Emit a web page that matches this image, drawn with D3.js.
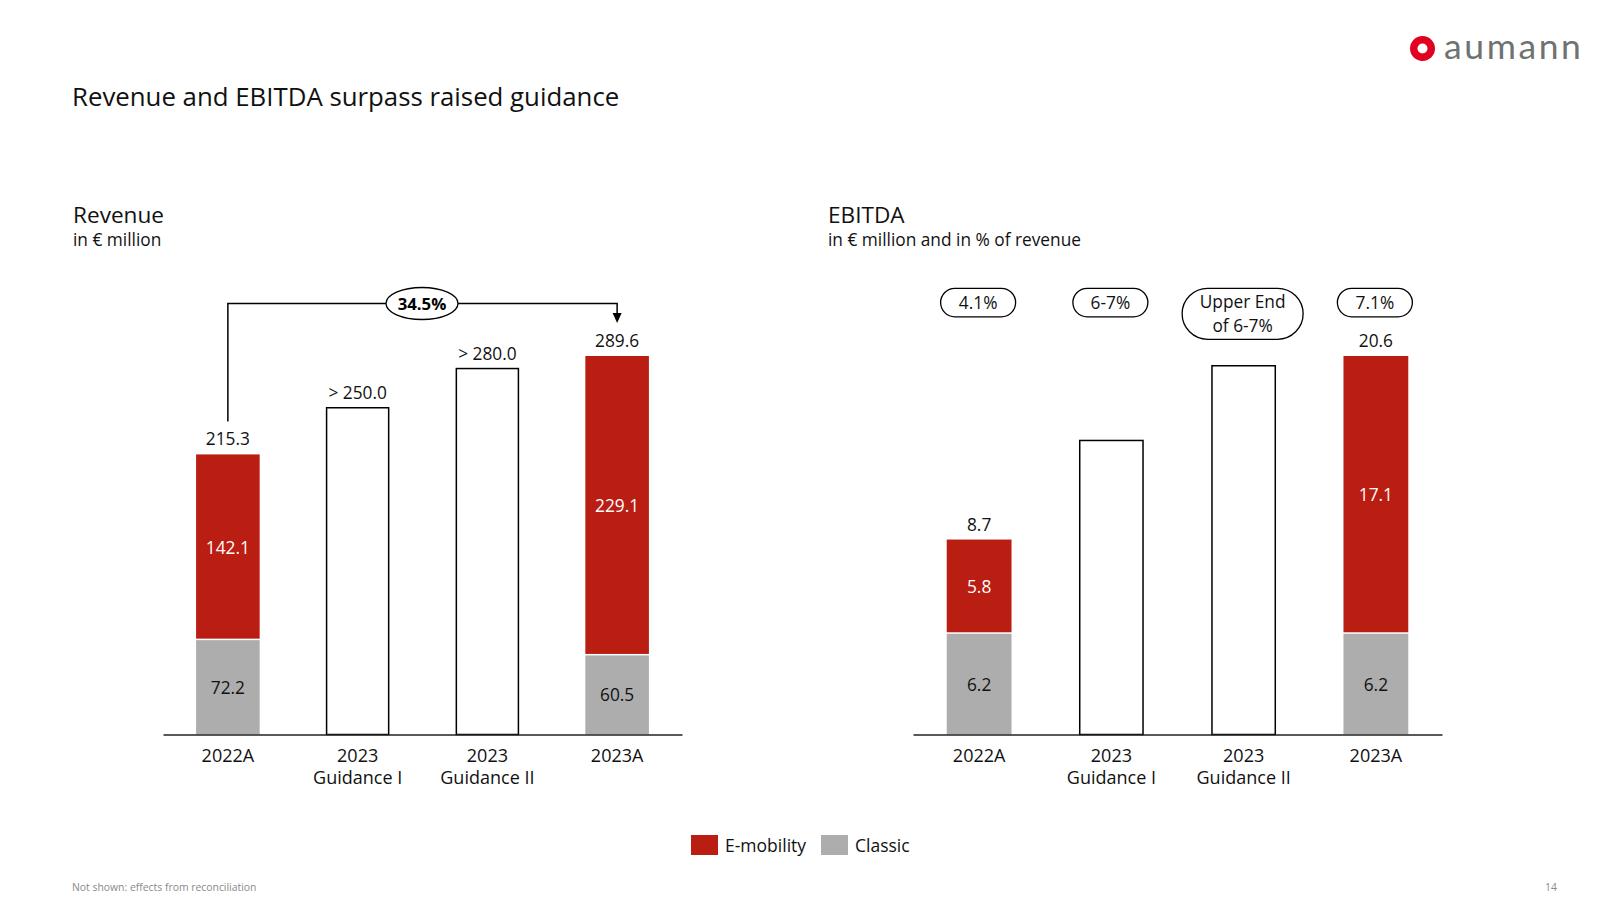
<!DOCTYPE html>
<html>
<head>
<meta charset="utf-8">
<script src="https://cdn.jsdelivr.net/npm/d3@7"></script>
<style>
  html, body { margin: 0; padding: 0; background: #fff; }
  svg { display: block; font-family: "Open Sans", "Noto Sans", sans-serif; }
</style>
</head>
<body>
<svg id="chart" width="1600" height="900"></svg>
<script>
// ---------- data ----------
const categories = ["2022A", "2023\nGuidance I", "2023\nGuidance II", "2023A"];
const seriesNames = ["E-mobility", "Classic"];

const revClassic   = [72.2, null, null, 60.5];
const revEmobility = [142.1, null, null, 229.1];
const revGuidance  = [null, 250.0, 280.0, null];
const revTotals    = ["215.3", "> 250.0", "> 280.0", "289.6"];
const revGrowth    = "34.5%";

const ebitdaClassic   = [6.2, null, null, 6.2];
const ebitdaEmobility = [5.8, null, null, 17.1];
const ebitdaGuidance  = [null, 18.1, 22.7, null];
const ebitdaTotals    = ["8.7", null, null, "20.6"];
const ebitdaMargins   = ["4.1%", "6-7%", "Upper End\nof 6-7%", "7.1%"];

// ---------- styles ----------
const RED = "#BA1D12", GREY = "#ADADAD", INK = "#111";
const svg = d3.select("#chart");

// header
svg.append("text").attr("x", 72).attr("y", 105.5).attr("font-size", 25.8).attr("fill", INK)
  .text("Revenue and EBITDA surpass raised guidance");

// logo
const logo = svg.append("g");
logo.append("circle").attr("cx", 1422.5).attr("cy", 48.5).attr("r", 12.5).attr("fill", "#E1001F");
logo.append("circle").attr("cx", 1422.5).attr("cy", 48.5).attr("r", 5).attr("fill", "#fff");
logo.append("text").attr("x", 1444).attr("y", 58.5).attr("font-size", 35.5).attr("letter-spacing", 2.6)
  .attr("fill", "#6E7271").attr("font-family", "Lato, 'Open Sans', sans-serif").text("aumann");

// footer
svg.append("text").attr("x", 72).attr("y", 891).attr("font-size", 10.4).attr("fill", "#8a8a8a")
  .text("Not shown: effects from reconciliation");
svg.append("text").attr("x", 1557).attr("y", 891).attr("font-size", 10.4).attr("fill", "#8a8a8a")
  .attr("text-anchor", "end").text("14");

// ---------- generic panel ----------
function panel(opt) {
  const g = svg.append("g");
  const x = d3.scaleBand().domain(categories).range(opt.xRange)
    .paddingInner(opt.pad).paddingOuter(opt.pad / 2);
  const y = d3.scaleLinear().domain([0, opt.yMax]).range([734.5, 356]);

  // titles
  g.append("text").attr("x", opt.titleX).attr("y", 222.5).attr("font-size", 22.6).attr("fill", INK).text(opt.title);
  g.append("text").attr("x", opt.titleX).attr("y", 245.5).attr("font-size", 17.3).attr("fill", INK).text(opt.subtitle);

  const bw = x.bandwidth();
  // classic
  g.selectAll(".classic").data(categories.filter((c, i) => opt.classic[i] != null)).join("rect")
    .attr("x", c => x(c)).attr("width", bw)
    .attr("y", c => y(opt.classic[categories.indexOf(c)]))
    .attr("height", c => y(0) - y(opt.classic[categories.indexOf(c)]))
    .attr("fill", GREY);
  // e-mobility (stacked)
  g.selectAll(".emob").data(categories.filter((c, i) => opt.emob[i] != null)).join("rect")
    .attr("x", c => x(c)).attr("width", bw)
    .attr("y", c => { const i = categories.indexOf(c); return y(opt.classic[i] + opt.emob[i]); })
    .attr("height", c => { const i = categories.indexOf(c); return y(opt.classic[i]) - y(opt.classic[i] + opt.emob[i]) - 1.5; })
    .attr("fill", RED);
  // guidance outlines
  g.selectAll(".guid").data(categories.filter((c, i) => opt.guid[i] != null)).join("rect")
    .attr("x", c => x(c) + 0.75).attr("width", bw - 1.5)
    .attr("y", c => y(opt.guid[categories.indexOf(c)]))
    .attr("height", c => y(0) - y(opt.guid[categories.indexOf(c)]))
    .attr("fill", "#fff").attr("stroke", "#000").attr("stroke-width", 1.5);

  // inner labels
  categories.forEach((c, i) => {
    const cx = x(c) + bw / 2;
    if (opt.classic[i] != null) {
      g.append("text").attr("x", cx).attr("y", (y(0) + y(opt.classic[i])) / 2)
        .attr("text-anchor", "middle").attr("dominant-baseline", "central")
        .attr("font-size", 17.3).attr("fill", INK).text(opt.classic[i].toFixed(1));
      g.append("text").attr("x", cx).attr("y", (y(opt.classic[i]) + y(opt.classic[i] + opt.emob[i])) / 2)
        .attr("text-anchor", "middle").attr("dominant-baseline", "central")
        .attr("font-size", 17.3).attr("fill", "#fff").text(opt.emob[i].toFixed(1));
    }
    const top = opt.guid[i] != null ? y(opt.guid[i]) : (opt.classic[i] != null ? y(opt.classic[i] + opt.emob[i]) : null);
    if (opt.totals[i]) {
      g.append("text").attr("x", cx).attr("y", top - 9)
        .attr("text-anchor", "middle").attr("font-size", 17.3).attr("fill", INK).text(opt.totals[i]);
    }
  });

  // axis
  const ax = g.append("g").attr("transform", `translate(0,${y(0)})`)
    .call(d3.axisBottom(x).tickSize(0).tickSizeOuter(0).tickFormat(""));
  ax.select(".domain").attr("stroke", "#222").attr("stroke-width", 1.5);
  ax.selectAll(".tick").each(function (c) {
    const t = d3.select(this).append("text").attr("text-anchor", "middle")
      .attr("font-size", 18).attr("fill", INK).attr("font-family", "'Open Sans', sans-serif");
    c.split("\n").forEach((line, k) => {
      t.append("tspan").attr("x", 0).attr("y", 27 + k * 22.5).text(line);
    });
  });
  return { g, x, y };
}

// ---------- revenue ----------
const rev = panel({
  xRange: [163, 682], pad: 0.51, yMax: revClassic[3] + revEmobility[3],
  title: "Revenue", subtitle: "in € million", titleX: 73,
  classic: revClassic, emob: revEmobility, guid: revGuidance, totals: revTotals
});
{
  const { g, x, y } = rev;
  const bw = x.bandwidth();
  const x0 = x(categories[0]) + bw / 2, x3 = x(categories[3]) + bw / 2;
  const top0 = y(revClassic[0] + revEmobility[0]);
  const top3 = y(revClassic[3] + revEmobility[3]);
  const yLine = top3 - 52.5;
  g.append("path")
    .attr("d", `M${x0},${top0 - 33}V${yLine}H${x3}V${top3 - 43}`)
    .attr("fill", "none").attr("stroke", "#000").attr("stroke-width", 1.5);
  g.append("path")
    .attr("d", `M${x3 - 4.5},${top3 - 43}L${x3 + 4.5},${top3 - 43}L${x3},${top3 - 33}Z`)
    .attr("fill", "#000");
  const ex = (x0 + x3) / 2 - 0.5;
  g.append("ellipse").attr("cx", ex).attr("cy", yLine).attr("rx", 36).attr("ry", 16)
    .attr("fill", "#fff").attr("stroke", "#000").attr("stroke-width", 1.3);
  g.append("text").attr("x", ex).attr("y", yLine).attr("text-anchor", "middle")
    .attr("dominant-baseline", "central").attr("font-size", 16.8).attr("font-weight", 700)
    .attr("fill", "#000").text(revGrowth);
}

// ---------- EBITDA ----------
const eb = panel({
  xRange: [913, 1442], pad: 0.51, yMax: ebitdaClassic[3] + ebitdaEmobility[3],
  title: "EBITDA", subtitle: "in € million and in % of revenue", titleX: 828,
  classic: ebitdaClassic, emob: ebitdaEmobility, guid: ebitdaGuidance, totals: ebitdaTotals
});
{
  const { g, x } = eb;
  const bw = x.bandwidth();
  categories.forEach((c, i) => {
    const lines = ebitdaMargins[i].split("\n");
    const cx = x(c) + bw / 2 - 1;
    const w = lines.length > 1 ? 121 : 75;
    const h = lines.length > 1 ? 51 : 28.5;
    g.append("rect").attr("x", cx - w / 2).attr("y", 288.3).attr("width", w).attr("height", h)
      .attr("rx", h / 2).attr("ry", h / 2)
      .attr("fill", "#fff").attr("stroke", "#000").attr("stroke-width", 1.3);
    const t = g.append("text").attr("text-anchor", "middle").attr("font-size", 17.3).attr("fill", INK);
    lines.forEach((ln, k) => {
      t.append("tspan").attr("x", cx).attr("y", lines.length > 1 ? 307.5 + k * 24 : 308.5).text(ln);
    });
  });
}

// ---------- legend ----------
const legend = svg.append("g");
const legendColors = [RED, GREY];
const legendX = [691, 821];
seriesNames.forEach((n, i) => {
  legend.append("rect").attr("x", legendX[i]).attr("y", 835).attr("width", 27).attr("height", 20)
    .attr("fill", legendColors[i]);
  legend.append("text").attr("x", legendX[i] + 34).attr("y", 851.5).attr("font-size", 17.5)
    .attr("fill", INK).text(n);
});
</script>
</body>
</html>
